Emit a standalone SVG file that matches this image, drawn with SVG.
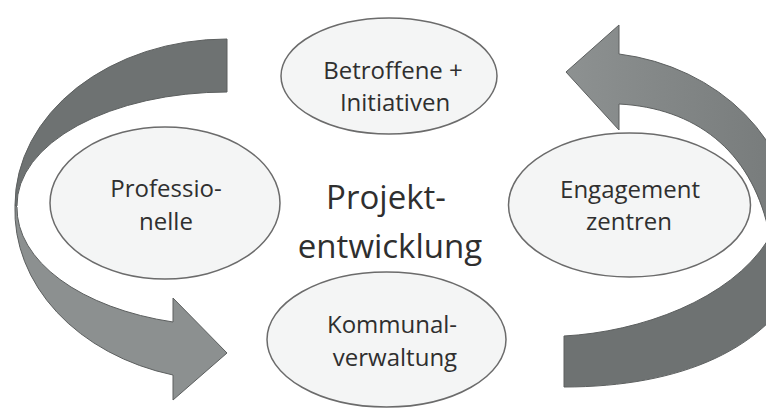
<svg xmlns="http://www.w3.org/2000/svg" width="766" height="408" viewBox="0 0 766 408">
<defs>
<style>
.band{stroke:#5c5f5f;stroke-width:1;stroke-linejoin:miter}
.dark{fill:#6e7272}
.light{fill:#8c9090}
.node ellipse{fill:#f4f5f5;stroke:#6b6b6b;stroke-width:1.5}
text{font-family:"Open Sans","Noto Sans","Liberation Sans",sans-serif;fill:#2f2f2f;text-anchor:middle}
.lbl{font-size:24px}
.big{font-size:33px}
</style>
<linearGradient id="gUp" x1="566" y1="0" x2="790" y2="0" gradientUnits="userSpaceOnUse">
<stop offset="0" stop-color="#8d9191"/>
<stop offset="1" stop-color="#767a7a"/>
</linearGradient>
</defs>
<rect width="766" height="408" fill="#ffffff"/>
<g id="connectors">
<path id="arrow-left-top" class="band dark" d="M227 39 A212 166 0 0 0 15 205 L17 206 A210 113 0 0 1 227 92 Z"/>
<path id="arrow-left-bottom" class="band light" d="M15 205 A212 170 0 0 0 173 375 L173 400 L227 353 L173 298 L173 322 A210 118 0 0 1 17 207 Z"/>
<path id="arrow-right-top" class="band" fill="url(#gUp)" d="M619 54 A205 180 0 0 1 795 232 L768 228 C750 150 695 108 619 104 L619 130 L566 72 L619 25 Z"/>
<path id="arrow-right-bottom" class="band dark" d="M768 240 C730 300 640 332 564 336 L564 387 C680 387 770 350 805 270 Z"/>
</g>
<g id="node-betroffene" class="node">
<ellipse cx="389" cy="76" rx="108" ry="58"/>
<text class="lbl" x="393" y="79">Betroffene +</text>
<text class="lbl" x="395" y="111">Initiativen</text>
</g>
<g id="node-professionelle" class="node">
<ellipse cx="165" cy="203" rx="115" ry="76"/>
<text class="lbl" x="166" y="197">Professio-</text>
<text class="lbl" x="166" y="230">nelle</text>
</g>
<g id="node-engagement" class="node">
<ellipse cx="629.5" cy="205" rx="121" ry="72"/>
<text class="lbl" x="630" y="198">Engagement</text>
<text class="lbl" x="629" y="230">zentren</text>
</g>
<g id="node-kommunal" class="node">
<ellipse cx="386.5" cy="339.5" rx="119.5" ry="67.5"/>
<text class="lbl" x="392" y="333">Kommunal-</text>
<text class="lbl" x="395" y="366">verwaltung</text>
</g>
<g id="center-title">
<text class="big" x="386" y="209">Projekt-</text>
<text class="big" x="390" y="258">entwicklung</text>
</g>
</svg>
